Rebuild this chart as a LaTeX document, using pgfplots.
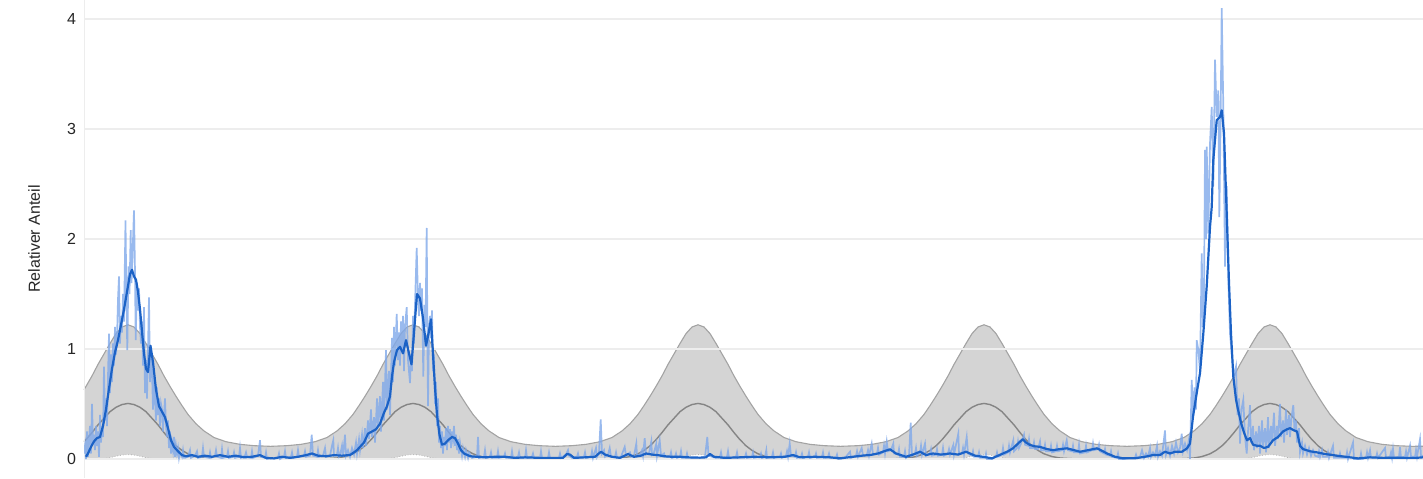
\documentclass[border=0pt]{standalone}
\usepackage{fontspec}
\setmainfont{Liberation Sans}
\usepackage{pgfplots}
\usepackage{pgfplotstable}
\pgfplotsset{compat=1.18}
\usepgfplotslibrary{fillbetween}

\definecolor{bandfill}{HTML}{D4D4D4}
\definecolor{bandedge}{HTML}{A3A3A3}
\definecolor{meanline}{HTML}{858585}
\definecolor{rawblue}{HTML}{80A9EA}
\definecolor{smoothblue}{HTML}{1B62C6}
\definecolor{gridc}{HTML}{EDEDED}

\pgfplotstableread{
x up mean lo
84 0.63 0.157 0
86 0.66 0.175 0
92 0.755 0.24 0
98 0.86 0.31 0
104 0.955 0.37 0.004
110 1.05 0.43 0.012
116 1.14 0.47 0.025
122 1.20 0.495 0.036
128 1.22 0.505 0.04
134 1.20 0.495 0.036
140 1.14 0.47 0.025
146 1.05 0.43 0.012
152 0.955 0.37 0.004
158 0.86 0.31 0
164 0.755 0.24 0
170 0.66 0.175 0
176 0.57 0.12 0
182 0.485 0.078 0
188 0.405 0.047 0
196 0.32 0.022 0
204 0.255 0.009 0
214 0.195 0.003 0
226 0.157 0 0
240 0.133 0 0
254 0.121 0 0
270.5 0.115 0 0
287 0.121 0 0
301 0.133 0 0
315 0.157 0 0
327 0.195 0.003 0
337 0.255 0.009 0
345 0.32 0.022 0
353 0.405 0.047 0
359 0.485 0.078 0
365 0.57 0.12 0
371 0.66 0.175 0
377 0.755 0.24 0
383 0.86 0.31 0
389 0.955 0.37 0.004
395 1.05 0.43 0.012
401 1.14 0.47 0.025
407 1.20 0.495 0.036
413 1.22 0.505 0.04
419 1.20 0.495 0.036
425 1.14 0.47 0.025
431 1.05 0.43 0.012
437 0.955 0.37 0.004
443 0.86 0.31 0
449 0.755 0.24 0
455 0.66 0.175 0
461 0.57 0.12 0
467 0.485 0.078 0
473 0.405 0.047 0
481 0.32 0.022 0
489 0.255 0.009 0
499 0.195 0.003 0
511 0.157 0 0
525 0.133 0 0
539 0.121 0 0
555.5 0.115 0 0
572 0.121 0 0
586 0.133 0 0
600 0.157 0 0
612 0.195 0.003 0
622 0.255 0.009 0
630 0.32 0.022 0
638 0.405 0.047 0
644 0.485 0.078 0
650 0.57 0.12 0
656 0.66 0.175 0
662 0.755 0.24 0
668 0.86 0.31 0
674 0.955 0.37 0.004
680 1.05 0.43 0.012
686 1.14 0.47 0.025
692 1.20 0.495 0.036
698 1.22 0.505 0.04
704 1.20 0.495 0.036
710 1.14 0.47 0.025
716 1.05 0.43 0.012
722 0.955 0.37 0.004
728 0.86 0.31 0
734 0.755 0.24 0
740 0.66 0.175 0
746 0.57 0.12 0
752 0.485 0.078 0
758 0.405 0.047 0
766 0.32 0.022 0
774 0.255 0.009 0
784 0.195 0.003 0
796 0.157 0 0
810 0.133 0 0
824 0.121 0 0
840.5 0.115 0 0
858 0.121 0 0
872 0.133 0 0
886 0.157 0 0
898 0.195 0.003 0
908 0.255 0.009 0
916 0.32 0.022 0
924 0.405 0.047 0
930 0.485 0.078 0
936 0.57 0.12 0
942 0.66 0.175 0
948 0.755 0.24 0
954 0.86 0.31 0
960 0.955 0.37 0.004
966 1.05 0.43 0.012
972 1.14 0.47 0.025
978 1.20 0.495 0.036
984 1.22 0.505 0.04
990 1.20 0.495 0.036
996 1.14 0.47 0.025
1002 1.05 0.43 0.012
1008 0.955 0.37 0.004
1014 0.86 0.31 0
1020 0.755 0.24 0
1026 0.66 0.175 0
1032 0.57 0.12 0
1038 0.485 0.078 0
1044 0.405 0.047 0
1052 0.32 0.022 0
1060 0.255 0.009 0
1070 0.195 0.003 0
1082 0.157 0 0
1096 0.133 0 0
1110 0.121 0 0
1127 0.115 0 0
1144 0.121 0 0
1158 0.133 0 0
1172 0.157 0 0
1184 0.195 0.003 0
1194 0.255 0.009 0
1202 0.32 0.022 0
1210 0.405 0.047 0
1216 0.485 0.078 0
1222 0.57 0.12 0
1228 0.66 0.175 0
1234 0.755 0.24 0
1240 0.86 0.31 0
1246 0.955 0.37 0.004
1252 1.05 0.43 0.012
1258 1.14 0.47 0.025
1264 1.20 0.495 0.036
1270 1.22 0.505 0.04
1276 1.20 0.495 0.036
1282 1.14 0.47 0.025
1288 1.05 0.43 0.012
1294 0.955 0.37 0.004
1300 0.86 0.31 0
1306 0.755 0.24 0
1312 0.66 0.175 0
1318 0.57 0.12 0
1324 0.485 0.078 0
1330 0.405 0.047 0
1338 0.32 0.022 0
1346 0.255 0.009 0
1356 0.195 0.003 0
1368 0.157 0 0
1382 0.133 0 0
1396 0.121 0 0
1412 0.115 0 0
1423 0.116 0 0
}\band

\pgfplotstableread{
x y
86 0.02
88 0.05
91 0.11
94 0.16
97 0.19
100 0.20
103 0.30
106 0.45
109 0.64
112 0.82
115 0.97
118 1.08
121 1.22
124 1.36
127 1.52
130 1.68
132 1.72
134 1.66
136 1.63
138 1.52
140 1.36
142 1.16
144 0.96
146 0.82
148 0.79
150.5 1.03
153 0.88
156 0.63
159 0.48
162 0.43
165 0.38
168 0.28
171 0.17
174 0.11
178 0.07
182 0.035
186 0.025
192 0.035
198 0.02
205 0.03
212 0.02
220 0.035
228 0.02
236 0.03
244 0.015
252 0.02
260 0.035
266 0.01
274 0.005
282 0.02
290 0.01
298 0.02
306 0.035
312 0.05
318 0.03
326 0.025
334 0.035
342 0.03
350 0.036
354 0.06
357 0.08
361 0.12
364 0.15
368 0.23
372 0.25
376 0.27
380 0.32
384 0.42
387 0.48
390 0.57
392 0.75
394 0.88
397 0.99
400 1.02
403 0.96
406 1.08
409 0.96
411.5 0.86
414 1.15
417 1.50
420 1.46
423 1.28
426 1.03
428.5 1.14
431 1.27
433 0.95
435 0.65
437 0.40
439.5 0.22
442 0.13
445 0.14
448 0.17
452 0.20
455 0.19
458 0.14
461 0.08
464 0.05
470 0.025
477 0.02
485 0.015
495 0.02
505 0.02
515 0.01
525 0.015
540 0.01
556 0.01
563 0.01
567 0.045
570 0.04
574 0.01
585 0.015
595 0.02
601 0.066
605 0.04
612 0.02
620 0.01
628 0.045
634 0.02
641 0.03
646 0.05
652 0.04
658 0.035
664 0.025
672 0.02
680 0.02
688 0.015
700 0.012
706 0.015
710 0.045
714 0.02
725 0.01
740 0.015
755 0.02
770 0.015
785 0.02
793 0.036
800 0.015
815 0.02
830 0.015
840 0.006
853 0.02
862 0.03
870 0.036
878 0.05
884 0.07
890 0.088
896 0.05
906 0.02
913 0.04
920 0.066
926 0.036
933 0.05
941 0.04
950 0.05
958 0.04
966 0.066
975 0.03
983 0.02
992 0.006
1003 0.05
1008 0.07
1013 0.097
1018 0.14
1022.7 0.18
1026 0.15
1030 0.127
1035 0.115
1040 0.11
1047 0.09
1053 0.08
1060 0.09
1067 0.097
1074 0.08
1080 0.066
1088 0.08
1097 0.097
1103 0.07
1107 0.05
1115 0.02
1123 0.006
1135 0.006
1145 0.02
1153 0.036
1160 0.036
1165 0.066
1170 0.05
1175 0.066
1182 0.066
1187 0.097
1190 0.14
1193 0.385
1196.7 0.6
1200 0.78
1203.3 1.14
1206.7 1.57
1210 2.11
1211.7 2.29
1213.3 2.72
1216.7 3.08
1220 3.11
1221.7 3.17
1224 2.96
1226.7 2.23
1229 1.60
1231 1.14
1233.3 0.75
1236 0.54
1238 0.45
1241 0.33
1244 0.24
1247 0.17
1250 0.19
1253 0.13
1257 0.12
1260 0.12
1264 0.10
1268 0.11
1273 0.17
1278 0.20
1283 0.25
1287 0.27
1290 0.28
1294 0.26
1297 0.25
1300 0.12
1303 0.09
1310 0.07
1317 0.06
1325 0.045
1337 0.03
1350 0.015
1358 0.005
1370 0.015
1383 0.01
1395 0.012
1405 0.01
1416 0.01
1423 0.015
}\smooth

\pgfplotstableread{
x y
84 0.05
85 0.12
86 0.0
87 0.25
88 0.02
89 0.18
90 0.30
91 0.05
92 0.50
93 0.15
94 0.22
95 0.08
96 0.30
97 0.12
98 0.25
99 0.02
100 0.40
101 0.15
102 0.30
103 0.20
104 0.84
105 0.35
106 0.55
107 0.30
108 0.75
109 1.14
110 0.60
111 0.95
112 0.70
113 1.05
114 0.85
115 1.20
116 0.95
117 1.10
118 1.45
119 1.66
120 1.05
121 1.30
122 1.15
123 1.50
124 1.25
125.5 2.17
126.5 1.40
127.3 0.99
128.5 1.75
129.5 1.50
130.7 2.08
131.5 1.60
132.5 1.85
134 2.26
135 1.70
135.7 1.08
137 1.60
138 1.35
139 1.55
140 1.20
141 1.05
142 1.25
143 0.85
144 1.38
145 0.60
146 0.90
147 0.55
148 1.00
149 1.47
150 0.70
151 0.95
152 0.80
153 0.45
154 0.75
155 0.55
156 0.35
157 0.65
158 0.40
159 0.55
160 0.30
161 0.50
162 0.45
163 0.25
164 0.40
165 0.55
166 0.30
167 0.20
168 0.35
169 0.10
170 0.25
171 0.05
172 0.15
173 0.08
174 0.20
175 0.02
176 0.12
177 0.05
178 0.10
179 0.01
180 0.06
182 0.02
183 0.08
184 0.01
185 0.01
188 0.02
190 0.08
191 0.01
195 0.03
197 0.07
198 0.01
202 0.02
203 0.10
204 0.02
209 0.01
210 0.06
211 0.01
215 0.03
216 0.08
217 0.02
221 0.01
222 0.09
223 0.01
227 0.02
228 0.07
229 0.01
233 0.02
234 0.06
235 0.01
239 0.02
240 0.10
241 0.01
245 0.03
246 0.06
247 0.02
251 0.01
252 0.07
253 0.01
258 0.03
260 0.17
261 0.02
265 0.01
266 0.06
267 0.0
272 0.01
278 0.01
279 0.05
280 0.0
284 0.02
285 0.07
286 0.01
291 0.02
292 0.06
293 0.01
297 0.02
298 0.08
299 0.02
304 0.03
305 0.07
306 0.02
310 0.03
311.7 0.22
313 0.03
317 0.02
318 0.08
319 0.02
323 0.03
325 0.10
326 0.02
330 0.03
332 0.12
333.3 0.17
334 0.03
337 0.04
338 0.10
339 0.02
340 0.03
342 0.12
343 0.02
345 0.22
346 0.03
348 0.08
350 0.02
352 0.10
354 0.04
356 0.15
357 0.05
359 0.18
360 0.08
362 0.22
363 0.10
365 0.28
366 0.12
368 0.35
369 0.18
371 0.45
372 0.20
374 0.38
375 0.15
377 0.55
378 0.30
380 0.57
381 0.25
383 0.70
384 0.35
386 0.99
387 0.45
389 0.80
390 0.40
392 1.10
393 0.70
394 1.20
395 0.85
396.7 1.32
398 0.90
399 1.15
400 0.85
401 1.25
402 1.00
403 1.30
404 0.80
405 1.20
406.7 1.38
408 0.90
410 0.69
411 0.95
412 0.80
413 1.30
414 1.05
415 1.40
416.7 1.92
418 1.45
419 1.30
420 1.60
421 1.35
422 1.55
423.3 0.75
424.5 1.40
425.5 1.20
426.7 2.10
427.5 1.00
428 0.48
429 1.20
430 1.30
431 1.10
432 1.35
433 0.80
434 0.95
435 0.50
436 0.70
437 0.30
438 0.55
439 0.15
440 0.30
441 0.10
442 0.25
443 0.05
444 0.20
445 0.12
446 0.28
447 0.08
448 0.30
449 0.15
450 0.27
451 0.10
452 0.25
453 0.18
454 0.30
455 0.12
456 0.22
457 0.08
458 0.18
459 0.05
460 0.15
462 0.03
463 0.10
465 0.02
466 0.08
468 0.01
469 0.06
472 0.01
477 0.02
478 0.20
479 0.01
484 0.02
485 0.08
486 0.01
490 0.02
491 0.06
492 0.01
497 0.01
498 0.07
499 0.01
504 0.02
505 0.05
506 0.01
511 0.01
512 0.07
513 0.01
518 0.02
519 0.06
520 0.01
525 0.01
526 0.08
527 0.01
532 0.02
533 0.05
534 0.01
540 0.01
541 0.07
542 0.01
548 0.01
549 0.06
550 0.01
556 0.01
559 0.01
560 0.05
561 0.01
566 0.04
568 0.08
569 0.03
572 0.01
577 0.02
578 0.05
579 0.01
584 0.02
585 0.06
586 0.01
591 0.02
592 0.07
593 0.01
596 0.10
597 0.02
599 0.06
600.7 0.36
602 0.05
604 0.08
605 0.02
608 0.04
609.7 0.10
611 0.02
615 0.02
616 0.06
617 0.01
621 0.02
624.7 0.11
626 0.03
630 0.06
631 0.02
634 0.03
636.3 0.14
637 0.03
640 0.04
642 0.08
643 0.03
644.7 0.19
646 0.04
649 0.05
651.3 0.16
652 0.04
654 0.06
656.3 0.14
657 0.03
659.7 0.17
661 0.03
664 0.05
665 0.02
670 0.02
671 0.06
672 0.01
675 0.02
676 0.05
677 0.01
680 0.02
681 0.07
682 0.01
686 0.01
687 0.05
688 0.01
694 0.01
700 0.01
705 0.02
707.3 0.20
708.5 0.03
712 0.02
716 0.01
720 0.02
721 0.06
722 0.01
727 0.02
728 0.07
729 0.01
736 0.02
737 0.06
738 0.01
745 0.02
746 0.05
747 0.01
752 0.02
753 0.06
754 0.01
760 0.02
761 0.05
762 0.01
765 0.02
766.3 0.08
767 0.01
772 0.02
773 0.06
774 0.01
780 0.02
781 0.05
782 0.01
786 0.03
787 0.07
788 0.02
789.7 0.14
791 0.03
795 0.02
796 0.06
797 0.01
801 0.02
802 0.05
803 0.01
808 0.02
809 0.06
810 0.01
815 0.02
816 0.05
817 0.01
822 0.02
823 0.06
824 0.01
828 0.02
829 0.05
830 0.01
836 0.01
837 0.04
838 0.0
845 0.01
850 0.066
851 0.01
856 0.03
857 0.07
858 0.02
861.7 0.10
863 0.03
867 0.04
868 0.08
869 0.03
871.7 0.14
873 0.04
877 0.05
878 0.10
879 0.04
883 0.06
884 0.12
885 0.05
886.7 0.16
888 0.07
891 0.08
893.3 0.14
894 0.05
898 0.04
899 0.09
900 0.02
904 0.02
905 0.07
906 0.01
909 0.03
910.7 0.33
912 0.03
915 0.05
916 0.10
917 0.03
920 0.06
921 0.12
922 0.04
925 0.14
926 0.03
930 0.05
931 0.09
932 0.03
936 0.04
937 0.09
938 0.03
942 0.04
943 0.10
944 0.03
948 0.05
949 0.09
950 0.04
953.3 0.127
954 0.04
958.3 0.23
959 0.04
962 0.05
963 0.10
964 0.04
966.7 0.20
968 0.05
972 0.03
973 0.07
974 0.02
978 0.02
979 0.06
980 0.01
985 0.01
986 0.05
987 0.0
992 0.0
996 0.02
997 0.06
998 0.02
1002 0.04
1003 0.10
1004 0.04
1008 0.06
1009 0.12
1010 0.06
1013.3 0.17
1014 0.07
1017 0.10
1018 0.16
1019 0.10
1021 0.14
1024 0.22
1025 0.13
1028 0.12
1029 0.18
1030 0.10
1033 0.10
1034 0.15
1035 0.09
1038 0.09
1040 0.16
1041 0.08
1044 0.08
1045 0.13
1046 0.07
1050 0.07
1051 0.12
1052 0.06
1056 0.07
1057 0.12
1058 0.07
1062 0.08
1063 0.13
1064 0.07
1066.7 0.17
1068 0.08
1072 0.07
1073 0.12
1074 0.06
1078 0.06
1079 0.13
1080 0.05
1085 0.06
1086 0.12
1087 0.06
1092 0.08
1093 0.14
1094 0.08
1098 0.09
1099 0.13
1100 0.07
1104 0.05
1105 0.09
1106 0.04
1110 0.03
1111 0.07
1112 0.02
1117 0.01
1118 0.05
1119 0.0
1124 0.0
1130 0.01
1135 0.01
1136 0.04
1137 0.01
1140 0.02
1142 0.08
1144 0.01
1146 0.05
1148 0.02
1150 0.10
1151 0.02
1153 0.06
1155 0.03
1157 0.12
1158 0.02
1160 0.07
1162 0.03
1165 0.26
1166 0.04
1168 0.10
1170 0.03
1172 0.12
1174 0.05
1176 0.15
1178 0.06
1180 0.10
1181.7 0.23
1183 0.07
1185 0.14
1187 0.08
1189 0.18
1190 0.0
1191.7 0.72
1193 0.40
1194.5 0.65
1196 0.45
1196.7 1.08
1198.3 0.99
1200 0.80
1201.7 1.87
1203 1.20
1204 1.50
1205 2.81
1206 2.00
1206.7 2.84
1208.3 2.05
1210 2.87
1211.7 3.20
1213.3 2.48
1215 3.63
1216.7 3.11
1218.3 3.35
1219.3 2.20
1220.5 3.00
1221.7 4.10
1223.3 3.20
1225 1.75
1226.7 2.48
1228.3 1.63
1230 1.14
1231.7 0.96
1234 0.75
1236 0.84
1237.5 0.40
1239 0.55
1240 0.14
1241.5 0.45
1243.3 0.54
1245 0.20
1246.7 0.05
1248 0.25
1250 0.49
1251 0.15
1253 0.30
1254 0.08
1256 0.25
1257 0.10
1259 0.30
1260 0.05
1262 0.35
1263 0.12
1265 0.28
1266 0.06
1268 0.38
1269 0.10
1271 0.30
1272 0.15
1274 0.42
1275 0.12
1277 0.30
1278 0.18
1280 0.50
1281 0.20
1283 0.35
1284 0.15
1286 0.45
1287 0.22
1289 0.40
1290 0.20
1291.5 0.38
1293.3 0.49
1294.5 0.25
1296 0.35
1297 0.15
1299 0.28
1300 0.06
1302 0.15
1303 0.05
1305 0.12
1307 0.04
1309 0.10
1311 0.03
1313 0.08
1315 0.03
1318 0.02
1319 0.07
1320 0.02
1322 0.08
1323 0.02
1327 0.02
1328 0.06
1329 0.01
1333 0.12
1334 0.01
1339 0.01
1340 0.05
1341 0.01
1346 0.01
1347 0.06
1348 0.0
1353 0.15
1354 0.0
1360 0.0
1361 0.05
1362 0.0
1366 0.01
1367 0.06
1368 0.01
1370 0.08
1371 0.01
1376 0.01
1377 0.05
1378 0.01
1385 0.10
1386 0.01
1390 0.02
1391 0.06
1392 0.01
1393 0.09
1394 0.01
1399 0.02
1400 0.11
1401 0.01
1405 0.02
1406 0.07
1407 0.01
1410 0.12
1411 0.02
1415 0.02
1416 0.08
1417 0.02
1420 0.18
1421 0.02
1423 0.03
}\raw

\tikzset{fill between/on layer=axis background}

\begin{document}%
\begin{tikzpicture}%
\begin{axis}[
  set layers,
  at={(0pt,0pt)}, anchor=south west,
  scale only axis, width=669.5pt, height=239pt,
  xmin=84, xmax=1423, ymin=-0.173, ymax=4.173,
  axis x line=none, axis y line=left,
  y axis line style={draw=gridc, -},
  ytick={0,1,2,3,4}, xtick=\empty,
  ymajorgrids, grid style={draw=gridc, line width=0.6pt},
  major tick length=0pt,
  tick label style={font=\fontsize{8}{9}\selectfont, text=black!85},
  /pgf/number format/assume math mode=true,
  yticklabel style={anchor=east, xshift=-0.5pt},
  ylabel={Relativer Anteil},
  ylabel style={font=\fontsize{8}{9}\selectfont, text=black!85,
    at={(axis description cs:-0.0373,0.5)}, anchor=center},
  clip=true,
]
\addplot[draw=none, name path=U] table[x=x, y=up] {\band};
\addplot[draw=none, name path=L] table[x=x, y=lo] {\band};
\addplot[fill=bandfill, draw=none] fill between[of=U and L];
\addplot[on layer=axis background, bandedge, line width=0.55pt] table[x=x, y=up] {\band};
\addplot[on layer=axis background, meanline, line width=0.7pt] table[x=x, y=mean] {\band};
\addplot[on layer=axis background, black!30, densely dotted, line width=0.4pt] table[x=x, y=lo] {\band};
\addplot[rawblue, line width=0.85pt, opacity=0.8] table[x=x, y=y] {\raw};
\addplot[smoothblue, line width=1.1pt, line join=round] table[x=x, y=y] {\smooth};
\end{axis}
\pgfresetboundingbox
\path[use as bounding box] (-42pt,0pt) rectangle (669.5pt,239pt);
\end{tikzpicture}%
\end{document}
